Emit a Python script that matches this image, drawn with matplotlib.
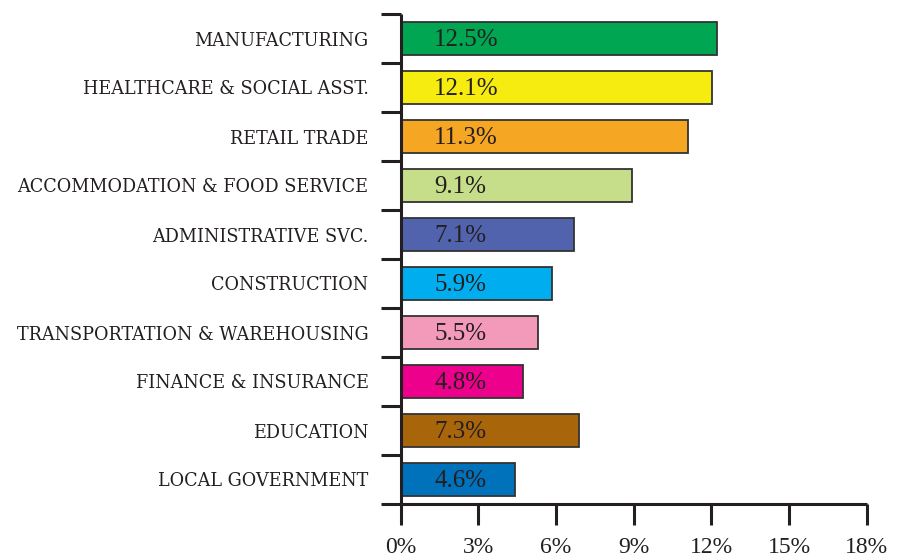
import matplotlib
matplotlib.use("Agg")
import matplotlib.pyplot as plt

categories = [
    "MANUFACTURING",
    "HEALTHCARE & SOCIAL ASST.",
    "RETAIL TRADE",
    "ACCOMMODATION & FOOD SERVICE",
    "ADMINISTRATIVE SVC.",
    "CONSTRUCTION",
    "TRANSPORTATION & WAREHOUSING",
    "FINANCE & INSURANCE",
    "EDUCATION",
    "LOCAL GOVERNMENT",
]
bar_values = [12.23, 12.03, 11.11, 8.93, 6.70, 5.84, 5.30, 4.73, 6.90, 4.42]
value_labels = ["12.5%", "12.1%", "11.3%", "9.1%", "7.1%", "5.9%", "5.5%", "4.8%", "7.3%", "4.6%"]
colors = ["#00a651", "#f7ec0f", "#f5a623", "#c6de89", "#5263ae",
          "#00aeef", "#f39aba", "#ec008c", "#a8650a", "#0072bc"]
xticks = [0, 3, 6, 9, 12, 15, 18]
xtick_labels = ["0%", "3%", "6%", "9%", "12%", "15%", "18%"]

ink = "#231f20"
serif = ["Liberation Serif"]
wide_serif = ["DejaVu Serif"]

W, H = 898, 559
fig = plt.figure(figsize=(W / 100, H / 100), dpi=100)
left, right, top, bottom = 400.5, 866.7, 14, 504
ax = fig.add_axes([left / W, (H - bottom) / H, (right - left) / W, (bottom - top) / H])

y = list(range(len(categories)))
ax.barh(y, bar_values, height=0.69, color=colors, edgecolor="#333333", linewidth=1.3, zorder=2)

for yi, lab in zip(y, value_labels):
    ax.text(1.3, yi + 0.15, lab, ha="left", va="baseline", fontsize=18,
            color=ink, family=serif, zorder=3)

ax.set_xlim(0, 18)
ax.set_ylim(len(categories) - 0.5, -0.5)

for s in ["top", "right"]:
    ax.spines[s].set_visible(False)
for s in ["left", "bottom"]:
    ax.spines[s].set_linewidth(2.2)
    ax.spines[s].set_color(ink)
    ax.spines[s].set_capstyle("butt")

ax.set_xticks(xticks)
ax.set_xticklabels(xtick_labels, family=serif, fontsize=17, color=ink)
ax.tick_params(axis="x", length=15, width=2.2, color=ink, pad=9)

ax.set_yticks([i - 0.5 for i in range(len(categories) + 1)])
ax.set_yticklabels([])
ax.tick_params(axis="y", which="major", length=14.5, width=2.2, color=ink)
ax.set_yticks(y, minor=True)
ax.set_yticklabels(categories, minor=True, family=wide_serif, fontsize=12.7,
                   color=ink, fontweight="medium")
ax.tick_params(axis="y", which="minor", length=0, pad=23)

fig.savefig("out.png", dpi=100)
